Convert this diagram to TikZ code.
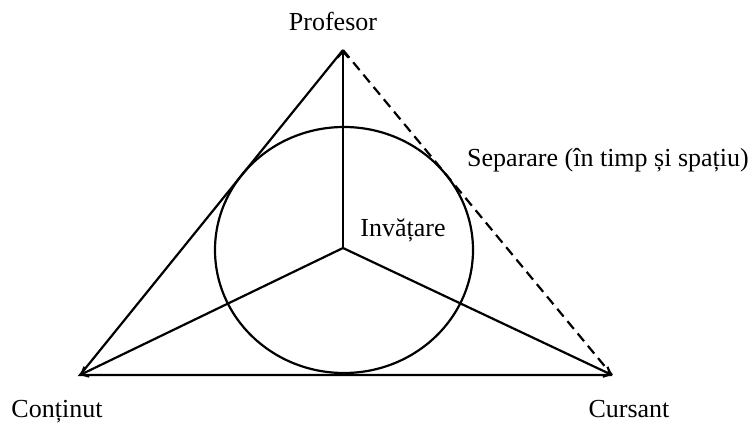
\documentclass[tikz,border=0pt]{standalone}
\usepackage{fontspec}
\setmainfont{Liberation Serif}
\usetikzlibrary{arrows.meta}
\tikzset{
  edge/.style={line width=2.2pt},
  spoke/.style={line width=2.2pt,-{Straight Barb[length=6pt,width=11pt,line width=2.2pt]}},
  lbl/.style={inner sep=0pt,anchor=base,font=\fontsize{26}{30}\selectfont},
}
\begin{document}
\begin{tikzpicture}[x=1pt,y=-1pt]
\useasboundingbox (0,0) rectangle (755,425);
\coordinate (P) at (343,50);
\coordinate (C) at (80,375);
\coordinate (S) at (612,375);
\coordinate (O) at (343,248);
\draw[edge] (P) -- (C) -- (S);
\draw[edge,dash pattern=on 10pt off 6pt] (P) -- (S);
\draw[edge] (344,250) ellipse [x radius=129, y radius=123];
\draw[spoke] (O) -- (P);
\draw[spoke] (O) -- (C);
\draw[spoke] (O) -- (S);
\node[lbl] (lp) at (333,31) {Profesor};
\node[lbl] (ls) at (608,166) {Separare (în timp și spațiu)};
\node[lbl] (li) at (403,236) {Invățare};
\node[lbl] (lc) at (57,417) {Conținut};
\node[lbl] (lcu) at (629,417) {Cursant};
\end{tikzpicture}
\end{document}
